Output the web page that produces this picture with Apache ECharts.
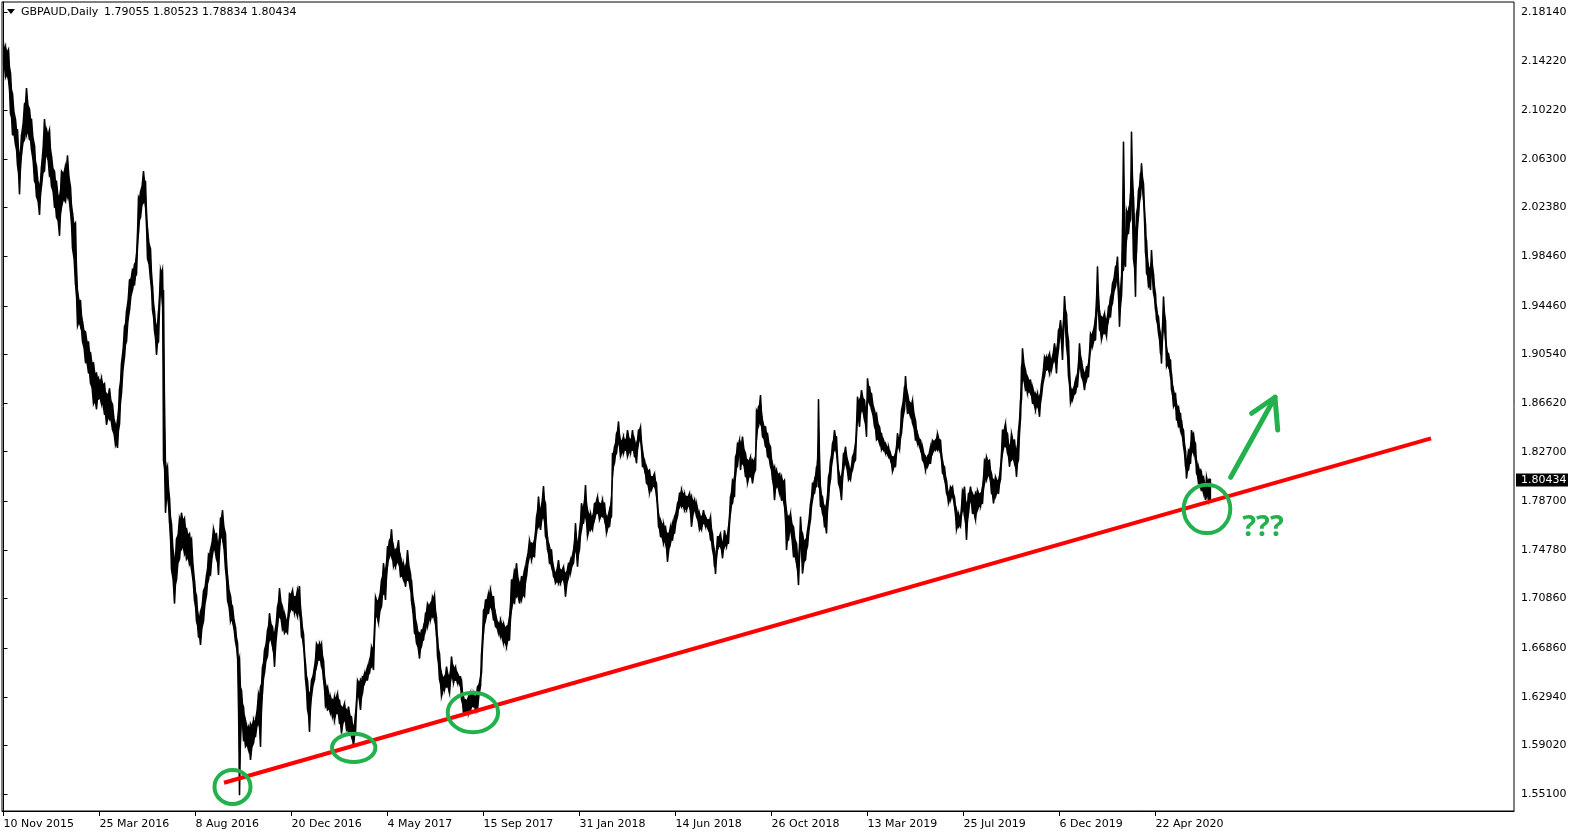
<!DOCTYPE html>
<html><head><meta charset="utf-8">
<script src="https://cdn.jsdelivr.net/npm/echarts@6/dist/echarts.min.js"></script>
<style>html,body{margin:0;padding:0;background:#fff}#c{width:1578px;height:838px}</style>
</head><body><div id="c"></div>
<script>
// ---------- data ----------
const symbolName = 'GBPAUD,Daily';
const lastOHLC = [1.79055, 1.80523, 1.78834, 1.80434];
const dateLabels = ['10 Nov 2015','25 Mar 2016','8 Aug 2016','20 Dec 2016','4 May 2017','15 Sep 2017','31 Jan 2018','14 Jun 2018','26 Oct 2018','13 Mar 2019','25 Jul 2019','6 Dec 2019','22 Apr 2020'];
const dateLabelBars = [0,96,192,288,384,480,576,672,768,864,960,1056,1152];
const priceLabels = [1.55100,1.59020,1.62940,1.66860,1.70860,1.74780,1.78700,1.82700,1.86620,1.90540,1.94460,1.98460,2.02380,2.06300,2.10220,2.14220,2.18140];

// bar number (trading days since 10 Nov 2015) and high / low of each sampled bar
const barNo = [
0,2,5,7,9,12,14,16,18,21,23,26,28,31,33,36,38,41,43,46,48,51,53,56,58,62,64,67,69,72,74,77,79,82,85,87,90,93,95,98,101,103,106,109,112,114,116,118,121,123,126,129,131,133,135,137,140,142,144,147,149,151,153,155,157,159,160,162,164,166,168,171,173,176,178,181,183,186,188,191,193,195,197,200,203,205,207,210,213,215,217,219,222,224,227,229,232,234,236,
238,240,242,245,247,250,252,255,257,259,261,264,266,269,271,274,276,279,281,284,286,289,291,294,296,298,300,302,304,306,308,311,313,316,318,320,322,324,327,329,331,334,336,338,341,343,345,348,350,352,354,357,359,361,364,366,368,370,372,375,378,380,382,384,386,388,390,392,395,397,400,402,404,407,408,411,413,416,418,420,422,424,427,429,431,433,434,436,438,441,443,446,448,450,452,454,457,458,460,462,465,467,470,472,474,477,478,480,482,485,487,490,492,495,497,500,503,506,
508,511,513,516,518,521,523,526,528,531,533,535,537,540,542,544,546,548,550,552,555,557,560,562,565,567,570,572,574,576,578,580,582,584,587,589,591,594,596,599,601,603,606,608,609,611,613,615,617,620,622,624,627,629,631,633,635,637,639,641,643,646,648,651,653,655,657,660,662,664,667,669,671,674,676,678,681,683,686,688,691,693,696,698,700,702,705,707,709,711,712,714,717,719,721,723,725,727,729,731,732,734,736,
737,739,742,744,747,749,752,753,755,757,759,762,764,767,769,771,773,776,778,781,783,785,787,790,793,795,797,799,802,804,807,809,811,813,814,815,817,819,821,823,825,827,829,831,833,835,838,840,842,845,847,849,852,854,856,858,861,863,864,866,868,871,873,876,878,880,882,885,887,889,892,894,896,898,901,902,904,907,909,912,914,917,919,922,924,927,929,932,934,937,939,941,943,945,947,949,951,953,955,957,959,961,963,965,967,969,972,974,977,979,981,983,986,988,990,992,995,997,
999,1002,1004,1006,1008,1011,1013,1015,1017,1018,1019,1022,1024,1027,1029,1032,1034,1036,1038,1041,1043,1046,1048,1051,1053,1055,1057,1059,1061,1063,1065,1067,1069,1072,1074,1076,1078,1081,1083,1085,1087,1089,1092,1094,1096,1098,1101,1103,1105,1107,1109,1112,1114,1116,1118,1120,1122,1123,1125,1127,1128,1130,1132,1133,1135,1137,1138,1140,1142,1143,1145,1147,1148,1150,1152,1153,1155,1157,1158,1160,1162,1163,1165,1167,1168,1170,1172,1173,1175,1177,1178,1180,1182,1183,1185,1187,1188,1190,1192,1193,1195,1197,1198,1200,1202,1203,1205,1206
];
const highs = [
2.1556,2.1535,2.1514,2.1326,2.1159,2.0951,2.0867,2.0658,2.0825,2.1076,2.1201,2.1034,2.0951,2.0742,2.0575,2.0408,2.0575,2.0951,2.0867,2.0867,2.0658,2.0533,2.0450,2.0324,2.0533,2.0575,2.0658,2.0408,2.0199,2.0116,1.9573,1.9489,1.9322,1.9239,1.9155,1.9072,1.8988,1.8905,1.8863,1.8863,1.8821,1.8738,1.8780,1.8654,1.8487,1.8529,1.8780,1.8988,1.9281,1.9406,1.9656,1.9740,1.9782,1.9865,2.0324,2.0366,2.0533,2.0450,2.0074,1.9907,1.9615,1.9406,1.9281,1.9406,1.9740,1.9740,1.9573,1.8195,1.8153,1.7903,1.7694,1.7402,1.7569,1.7736,1.7778,1.7736,1.7652,1.7611,1.7569,1.7235,1.7110,1.6943,1.6984,1.7151,1.7277,1.7444,1.7485,1.7652,1.7611,1.7527,1.7736,1.7799,1.7611,1.7277,1.7110,1.7026,1.6859,1.6734,1.6609,
1.6349,1.6215,1.6107,1.6054,1.6080,1.6107,1.6107,1.6322,1.6376,1.6537,1.6672,1.6833,1.6967,1.6860,1.6806,1.7021,1.7169,1.7021,1.6967,1.6913,1.7128,1.7155,1.7102,1.7155,1.7187,1.6940,1.6806,1.6564,1.6430,1.6322,1.6430,1.6537,1.6725,1.6725,1.6725,1.6591,1.6403,1.6376,1.6295,1.6269,1.6295,1.6322,1.6269,1.6215,1.6242,1.6188,1.6215,1.6134,1.6054,1.6161,1.6430,1.6430,1.6457,1.6484,1.6537,1.6591,1.6698,1.6698,1.7102,1.7075,1.7236,1.7370,1.7317,1.7505,1.7558,1.7644,1.7505,1.7478,1.7558,1.7424,1.7370,1.7343,1.7478,1.7290,1.7236,1.7021,1.6887,1.6806,1.6833,1.6860,1.6967,1.7048,1.7048,1.7102,1.7115,1.6940,1.6779,1.6645,1.6484,1.6457,1.6537,1.6457,1.6618,1.6537,1.6537,1.6484,1.6457,1.6430,1.6295,1.6269,1.6295,1.6322,1.6322,1.6295,1.6376,1.6457,1.6645,1.6994,1.7075,1.7128,1.7155,1.7102,1.6967,1.6887,1.6913,1.6887,1.6860,1.6940,
1.7236,1.7317,1.7371,1.7209,1.7263,1.7317,1.7397,1.7559,1.7532,1.7559,1.7747,1.7908,1.7800,1.7994,1.7854,1.7585,1.7505,1.7478,1.7344,1.7290,1.7397,1.7317,1.7344,1.7290,1.7371,1.7397,1.7478,1.7693,1.7532,1.7639,1.7854,1.7827,1.8002,1.7800,1.7774,1.7747,1.7854,1.7908,1.7854,1.7881,1.7854,1.7747,1.7800,1.7908,1.8257,1.8311,1.8418,1.8513,1.8365,1.8392,1.8365,1.8445,1.8365,1.8445,1.8365,1.8338,1.8445,1.8472,1.8284,1.8204,1.8150,1.8123,1.8069,1.8096,1.8015,1.7774,1.7720,1.7693,1.7666,1.7612,1.7666,1.7693,1.7747,1.7854,1.7935,1.7962,1.7935,1.7908,1.7935,1.7908,1.7881,1.7854,1.7774,1.7747,1.7800,1.7747,1.7720,1.7747,1.7612,1.7478,1.7424,1.7585,1.7612,1.7532,1.7639,1.7585,1.7666,1.7908,1.8042,1.8069,1.8230,1.8338,1.8365,
1.8337,1.8391,1.8257,1.8203,1.8230,1.8203,1.8230,1.8606,1.8633,1.8727,1.8525,1.8472,1.8418,1.8310,1.8176,1.8149,1.8122,1.8095,1.8069,1.8042,1.7800,1.7746,1.7773,1.7665,1.7531,1.7397,1.7746,1.7612,1.7558,1.7639,1.7854,1.8015,1.8042,1.8149,1.8203,1.8692,1.7988,1.7907,1.7827,1.7854,1.8069,1.8203,1.8337,1.8445,1.8391,1.8122,1.8069,1.8257,1.8310,1.8176,1.8122,1.8230,1.8337,1.8713,1.8687,1.8767,1.8687,1.8606,1.8861,1.8794,1.8740,1.8606,1.8579,1.8472,1.8418,1.8364,1.8337,1.8310,1.8257,1.8230,1.8257,1.8418,1.8364,1.8606,1.8794,1.8880,1.8740,1.8660,1.8687,1.8525,1.8418,1.8364,1.8310,1.8230,1.8230,1.8310,1.8364,1.8364,1.8418,1.8364,1.8203,1.8149,1.8042,1.7934,1.7988,1.7988,1.7907,1.7800,1.7773,1.7746,1.7961,1.7988,1.7854,1.7934,1.7988,1.7934,1.7934,1.7961,1.7934,1.7988,1.8203,1.8230,1.8203,1.8095,1.8042,1.8069,1.8042,1.8149,
1.8445,1.8499,1.8418,1.8311,1.8418,1.8364,1.8284,1.8445,1.8687,1.8955,1.9103,1.8929,1.8875,1.8848,1.8794,1.8740,1.8740,1.8714,1.8821,1.9036,1.9036,1.9063,1.9009,1.9143,1.9090,1.9251,1.9332,1.9224,1.9525,1.9385,1.9170,1.8794,1.8767,1.8848,1.8902,1.9143,1.9009,1.8902,1.8955,1.8982,1.9224,1.9224,1.9358,1.9762,1.9412,1.9358,1.9385,1.9332,1.9439,1.9520,1.9627,1.9762,1.9842,1.9546,1.9681,2.0769,1.9923,2.0218,2.0218,2.0353,2.0850,2.0326,2.0057,2.0191,2.0380,2.0514,2.0594,2.0433,2.0111,1.9976,1.9761,1.9761,1.9896,1.9708,1.9547,1.9439,1.9358,1.9224,1.9143,1.9520,1.9332,1.9117,1.9063,1.9009,1.8902,1.8767,1.8740,1.8660,1.8633,1.8579,1.8525,1.8445,1.8284,1.8203,1.8284,1.8311,1.8445,1.8418,1.8338,1.8203,1.8149,1.8123,1.8096,1.8069,1.8015,1.8069,1.8042,1.80523
];
const lows = [
2.1389,2.1285,2.1264,2.0992,2.0825,2.0742,2.0575,2.0345,2.0658,2.0784,2.0825,2.0784,2.0700,2.0450,2.0324,2.0178,2.0408,2.0533,2.0658,2.0491,2.0408,2.0241,2.0157,2.0011,2.0241,2.0283,2.0324,2.0199,1.9907,1.9615,1.9281,1.9281,1.9155,1.8988,1.8905,1.8821,1.8654,1.8613,1.8696,1.8654,1.8571,1.8487,1.8529,1.8446,1.8320,1.8300,1.8487,1.8738,1.9030,1.9155,1.9406,1.9573,1.9615,1.9698,2.0032,2.0157,2.0283,2.0241,1.9823,1.9656,1.9406,1.9239,1.9051,1.9155,1.9573,1.9448,1.8195,1.7778,1.7903,1.7694,1.7318,1.7047,1.7235,1.7402,1.7485,1.7444,1.7402,1.7360,1.7318,1.7068,1.6901,1.6776,1.6713,1.6901,1.7110,1.7235,1.7277,1.7485,1.7402,1.7277,1.7569,1.7569,1.7318,1.7068,1.6901,1.6901,1.6734,1.6609,1.5502,
1.6107,1.5946,1.5892,1.5866,1.5785,1.5919,1.5973,1.6080,1.5892,1.6322,1.6484,1.6618,1.6752,1.6698,1.6537,1.6860,1.6940,1.6833,1.6806,1.6806,1.6967,1.6994,1.6967,1.6940,1.6967,1.6779,1.6698,1.6430,1.6188,1.6013,1.6295,1.6430,1.6537,1.6591,1.6537,1.6430,1.6215,1.6188,1.6161,1.6134,1.6107,1.6161,1.6080,1.6000,1.6107,1.6027,1.6000,1.5973,1.5892,1.6000,1.6322,1.6188,1.6322,1.6403,1.6430,1.6484,1.6537,1.6510,1.6940,1.6887,1.7021,1.7128,1.7075,1.7343,1.7424,1.7424,1.7343,1.7343,1.7370,1.7263,1.7236,1.7182,1.7236,1.7155,1.7061,1.6806,1.6725,1.6604,1.6698,1.6752,1.6833,1.6860,1.6913,1.6940,1.6913,1.6779,1.6618,1.6430,1.6295,1.6349,1.6376,1.6322,1.6457,1.6403,1.6430,1.6403,1.6376,1.6269,1.6161,1.6161,1.6161,1.6188,1.6215,1.6188,1.6188,1.6376,1.6484,1.6806,1.6913,1.6967,1.7021,1.6913,1.6860,1.6806,1.6779,1.6725,1.6698,1.6752,
1.6994,1.7048,1.7102,1.7048,1.7075,1.7102,1.7263,1.7424,1.7397,1.7424,1.7612,1.7666,1.7639,1.7747,1.7585,1.7478,1.7371,1.7344,1.7263,1.7209,1.7209,1.7209,1.7236,1.7102,1.7263,1.7290,1.7371,1.7478,1.7344,1.7478,1.7639,1.7693,1.7747,1.7585,1.7639,1.7639,1.7720,1.7774,1.7720,1.7747,1.7720,1.7612,1.7666,1.7747,1.8069,1.8177,1.8257,1.8338,1.8230,1.8257,1.8284,1.8230,1.8257,1.8284,1.8230,1.8177,1.8338,1.8365,1.8150,1.8123,1.8015,1.7935,1.7962,1.7989,1.7908,1.7666,1.7585,1.7532,1.7532,1.7384,1.7532,1.7559,1.7612,1.7747,1.7827,1.7827,1.7800,1.7800,1.7827,1.7666,1.7800,1.7747,1.7639,1.7639,1.7693,1.7666,1.7639,1.7559,1.7478,1.7344,1.7284,1.7478,1.7505,1.7411,1.7505,1.7505,1.7532,1.7774,1.7854,1.7908,1.8069,1.8150,1.8257,
1.8122,1.8176,1.8069,1.8015,1.8069,1.8015,1.8122,1.8364,1.8472,1.8498,1.8391,1.8310,1.8230,1.8149,1.8042,1.7880,1.7988,1.7934,1.7880,1.7827,1.7477,1.7558,1.7639,1.7424,1.7370,1.7195,1.7531,1.7289,1.7397,1.7504,1.7719,1.7880,1.7934,1.7988,1.8042,1.7988,1.7827,1.7773,1.7665,1.7612,1.7880,1.8042,1.8203,1.8284,1.8257,1.8015,1.7880,1.8122,1.8176,1.8042,1.8042,1.8122,1.8203,1.8525,1.8472,1.8606,1.8525,1.8391,1.8660,1.8660,1.8606,1.8472,1.8364,1.8337,1.8284,1.8284,1.8257,1.8230,1.8203,1.8109,1.8149,1.8310,1.8284,1.8418,1.8606,1.8687,1.8579,1.8552,1.8498,1.8364,1.8337,1.8284,1.8203,1.8122,1.8149,1.8176,1.8257,1.8284,1.8284,1.8257,1.8095,1.8042,1.7934,1.7854,1.7880,1.7907,1.7827,1.7639,1.7665,1.7665,1.7800,1.7746,1.7558,1.7773,1.7880,1.7773,1.7719,1.7800,1.7827,1.7854,1.8015,1.8042,1.8069,1.7934,1.7854,1.7907,1.7934,1.8042,
1.8257,1.8311,1.8257,1.8149,1.8203,1.8176,1.8069,1.8203,1.8525,1.8687,1.8848,1.8767,1.8740,1.8740,1.8660,1.8606,1.8633,1.8552,1.8714,1.8875,1.8929,1.8902,1.8929,1.9009,1.8902,1.9090,1.9224,1.9009,1.9332,1.9117,1.8875,1.8660,1.8687,1.8740,1.8794,1.8955,1.8875,1.8767,1.8848,1.8875,1.9090,1.9117,1.9170,1.9439,1.9251,1.9170,1.9224,1.9197,1.9332,1.9358,1.9466,1.9600,1.9654,1.9278,1.9520,1.9735,1.9761,1.9976,2.0030,2.0138,2.0299,1.9815,1.9520,1.9869,2.0165,2.0326,2.0406,2.0299,1.9869,1.9708,1.9600,1.9573,1.9708,1.9547,1.9412,1.9332,1.9224,1.9063,1.8982,1.9278,1.9170,1.8955,1.8955,1.8875,1.8767,1.8633,1.8633,1.8525,1.8472,1.8445,1.8418,1.8311,1.8149,1.8055,1.8122,1.8176,1.8257,1.8257,1.8203,1.8096,1.8015,1.7988,1.7961,1.7934,1.7881,1.7908,1.7881,1.78834
];

// hand-drawn trend line (bar number, price)
const trendBars = [220.5, 1427.5];
const trendPrices = [1.5602, 1.8377];
// green ellipse annotations: centre bar / centre price
const ellipseBars = [229, 350.2, 469.4, 1203.5];
const ellipsePrices = [1.5568, 1.5883, 1.6168, 1.7809];
// green arrow: start, tip, wing 1, wing 2
const arrowBars = [1227.2, 1271.5, 1248.2, 1274.2];
const arrowPrices = [1.8064, 1.8709, 1.8580, 1.8445];
const noteBar = 1259.5, notePrice = 1.7659, noteText = '???';

// ---------- chart ----------
const GREEN = '#22B14C';
const FONT = '"DejaVu Sans", Verdana, sans-serif';
const n = barNo.length;
const barData = barNo.map((b, i) => {
  const j = i < n - 1 ? i + 1 : i;
  return [b, highs[i], lows[i], i < n - 1 ? barNo[j] : b + 1, highs[j], lows[j]];
});

const chart = echarts.init(document.getElementById('c'), null, {renderer: 'canvas'});
chart.setOption({
  animation: false,
  backgroundColor: '#ffffff',
  grid: {left: 2, top: 2, width: 1512, height: 809, show: true, borderColor: '#000', borderWidth: 1, containLabel: false},
  xAxis: {
    type: 'value', min: -1.5, max: 1510.5,
    axisLine: {show: true, lineStyle: {color: '#000', width: 1}},
    axisTick: {show: true, length: 5, customValues: dateLabelBars, lineStyle: {color: '#000'}},
    axisLabel: {customValues: dateLabelBars, formatter: v => dateLabels[dateLabelBars.indexOf(v)] || '',
      align: 'left', margin: 8, color: '#000', fontFamily: FONT, fontSize: 11},
    splitLine: {show: false}
  },
  yAxis: {
    type: 'value', position: 'right', min: 1.5374, max: 2.1895,
    axisLine: {show: true, lineStyle: {color: '#000', width: 1}},
    axisTick: {show: true, length: 4, customValues: priceLabels, lineStyle: {color: '#000'}},
    axisLabel: {customValues: priceLabels, formatter: v => Number(v).toFixed(5),
      margin: 7, color: '#000', fontFamily: FONT, fontSize: 11},
    splitLine: {show: false}
  },
  series: [
    {
      type: 'custom', silent: true, clip: true, z: 2,
      encode: {x: 0, y: [1, 2]},
      data: barData,
      renderItem: (params, api) => {
        const b0 = api.value(0), h0 = api.value(1), l0 = api.value(2);
        const b1 = api.value(3), h1 = api.value(4), l1 = api.value(5);
        // daily-bar look: each sampled bar keeps its full range, the join between
        // two samples narrows to a waist so the edges stay spiky
        const bm = (b0 + b1) / 2, mt = (h0 + h1) / 2, mb = (l0 + l1) / 2;
        const r = mt - mb;
        const wt = mt - 0.16 * r, wb = mb + 0.16 * r;
        const pts = [[b0, h0], [bm, wt], [b1, h1], [b1, l1], [bm, wb], [b0, l0]].map(p => api.coord(p));
        return {
          type: 'polygon',
          shape: {points: pts},
          style: {fill: '#000', stroke: '#000', lineWidth: 1.3}
        };
      }
    },
    {
      type: 'line', silent: true, z: 3, symbol: 'none',
      data: trendBars.map((b, i) => [b, trendPrices[i]]),
      lineStyle: {color: '#FF0000', width: 4}
    }
  ]
});

const px = (b, p) => chart.convertToPixel({gridIndex: 0}, [b, p]);
const radii = [[18, 17], [21.7, 14.2], [25.2, 19.8], [23.3, 24.2]];
const graphics = [];
ellipseBars.forEach((b, i) => {
  const c = px(b, ellipsePrices[i]);
  graphics.push({type: 'ellipse', z: 100, silent: true,
    shape: {cx: c[0], cy: c[1], rx: radii[i][0], ry: radii[i][1]},
    style: {fill: 'none', stroke: GREEN, lineWidth: 4}});
});
const ap = arrowBars.map((b, i) => px(b, arrowPrices[i]));
graphics.push({type: 'line', z: 100, silent: true,
  shape: {x1: ap[0][0], y1: ap[0][1], x2: ap[1][0], y2: ap[1][1]},
  style: {stroke: GREEN, lineWidth: 5, lineCap: 'round'}});
graphics.push({type: 'polyline', z: 100, silent: true,
  shape: {points: [ap[2], ap[1], ap[3]]},
  style: {stroke: GREEN, lineWidth: 5, lineCap: 'round', lineJoin: 'round', fill: 'none'}});
const np = px(noteBar, notePrice);
graphics.push({type: 'text', z: 100, silent: true, x: np[0], y: np[1],
  style: {text: noteText, fill: GREEN, font: 'bold 29px "Open Sans", sans-serif', align: 'center', verticalAlign: 'middle', textAlign: 'center', textVerticalAlign: 'middle'}});
// current price tag on the price scale
const lp = px(barNo[n - 1], lastOHLC[3]);
graphics.push({type: 'rect', z: 100, silent: true, shape: {x: 1516, y: Math.round(lp[1]) - 6.5, width: 52, height: 13}, style: {fill: '#000'}});
graphics.push({type: 'text', z: 101, silent: true, x: 1521, y: Math.round(lp[1]),
  style: {text: lastOHLC[3].toFixed(5), fill: '#fff', font: '11px ' + FONT, verticalAlign: 'middle', textVerticalAlign: 'middle'}});
// header
graphics.push({type: 'polygon', z: 100, silent: true, shape: {points: [[7, 9], [15, 9], [11, 14]]}, style: {fill: '#000'}});
graphics.push({type: 'text', z: 100, silent: true, x: 21, y: 12,
  style: {text: symbolName, fill: '#000', font: '11px ' + FONT, verticalAlign: 'middle', textVerticalAlign: 'middle'}});
graphics.push({type: 'text', z: 100, silent: true, x: 104, y: 12,
  style: {text: lastOHLC.map(v => v.toFixed(5)).join(' '), fill: '#000', font: '11px ' + FONT, verticalAlign: 'middle', textVerticalAlign: 'middle'}});
chart.setOption({graphic: graphics});
</script>
</body></html>
